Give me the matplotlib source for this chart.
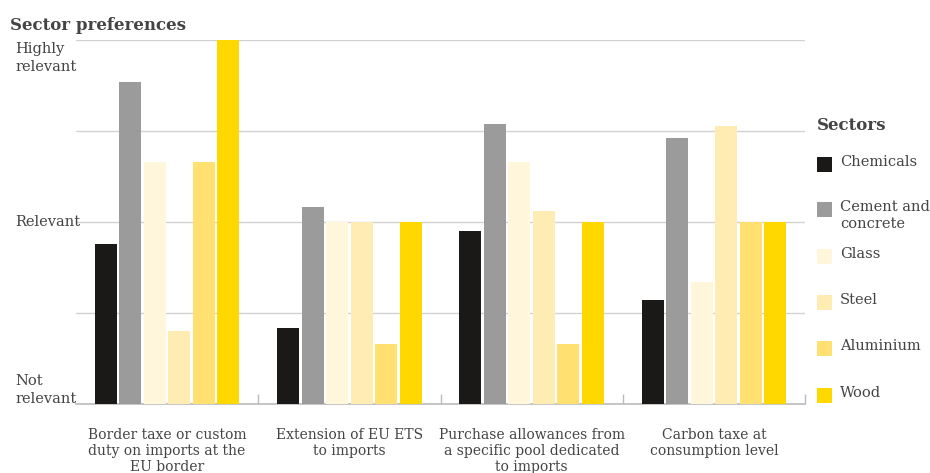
import matplotlib
matplotlib.use("Agg")
import matplotlib.pyplot as plt
import numpy as np
from matplotlib.patches import Rectangle
from matplotlib.transforms import blended_transform_factory

categories = ["Border taxe or custom\nduty on imports at the\nEU border",
              "Extension of EU ETS\nto imports",
              "Purchase allowances from\na specific pool dedicated\nto imports",
              "Carbon taxe at\nconsumption level"]
sectors = ["Chemicals", "Cement and\nconcrete", "Glass", "Steel", "Aluminium", "Wood"]
chemicals = [1.88, 1.42, 1.95, 1.57]
cement = [2.77, 2.08, 2.54, 2.46]
glass = [2.33, 2.0, 2.33, 1.67]
steel = [1.40, 2.0, 2.06, 2.53]
aluminium = [2.33, 1.33, 1.33, 2.0]
wood = [3.0, 2.0, 2.0, 2.0]
y_labels = ["Not\nrelevant", "Relevant", "Highly\nrelevant"]
y_label_vals = [1, 2, 3]

series = [chemicals, cement, glass, steel, aluminium, wood]
colors = ["#1a1917", "#9b9b9b", "#fff6dc", "#ffecb3", "#ffe070", "#ffd800"]

FONT = "DejaVu Serif"
TXT = "#444444"

W, H = 930, 473
fig = plt.figure(figsize=(W/100, H/100), dpi=100)
ax = fig.add_axes([76/W, 1-404/H, (805-76)/W, (404-40)/H])

x = np.arange(len(categories))
step = 0.1346
bw = 0.121
for i, (vals, c) in enumerate(zip(series, colors)):
    ax.bar(x + (i-2.5)*step, [v-1 for v in vals], width=bw, bottom=1, color=c, zorder=3)

ax.set_xlim(-0.5, 3.5)
ax.set_ylim(1, 3)
for s in ["top", "right", "left"]:
    ax.spines[s].set_visible(False)
ax.spines["bottom"].set_color("#bbbbbb")
ax.spines["bottom"].set_linewidth(1.2)
ax.set_yticks([1.5, 2, 2.5, 3])
ax.yaxis.grid(True, color="#d2d2d2", linewidth=1.0, zorder=0)
ax.tick_params(axis="y", length=0, labelleft=False)
ax.set_xticks(x)
ax.set_xticklabels(categories, fontfamily=FONT, fontsize=10, color=TXT, linespacing=1.2)
ax.tick_params(axis="x", length=0, pad=17)
ax.set_xticks([0.5, 1.5, 2.5, 3.5], minor=True)
ax.tick_params(axis="x", which="minor", direction="in", length=7, color="#bbbbbb", width=1)

# y labels
tr = blended_transform_factory(fig.transFigure, ax.transData)
ax.text(15/W, 2.99, y_labels[2], transform=tr, ha="left", va="top", fontfamily=FONT,
        fontsize=10.5, color=TXT, linespacing=1.35)
ax.text(15/W, y_label_vals[1], y_labels[1], transform=tr, ha="left", va="center", fontfamily=FONT,
        fontsize=10.5, color=TXT)
ax.text(15/W, 0.99, y_labels[0], transform=tr, ha="left", va="bottom", fontfamily=FONT,
        fontsize=10.5, color=TXT, linespacing=1.35)

fig.text(10/W, 1-25/H, "Sector preferences", fontfamily=FONT, fontweight="bold",
         fontsize=12, color=TXT, ha="left", va="center")

# legend
fig.text(817/W, 1-125/H, "Sectors", fontfamily=FONT, fontweight="bold",
         fontsize=12, color=TXT, ha="left", va="center")
tops = [157, 202, 249, 295, 341, 388]
for name, c, t in zip(sectors, colors, tops):
    fig.patches.append(Rectangle((817/W, 1-(t+15)/H), 15/W, 15/H, transform=fig.transFigure,
                                 facecolor=c, edgecolor="none"))
    fig.text(840/W, 1-(t-2)/H, name, fontfamily=FONT, fontsize=10.5, color=TXT,
             ha="left", va="top", linespacing=1.3)

fig.savefig("out.png", dpi=100, facecolor="white")
